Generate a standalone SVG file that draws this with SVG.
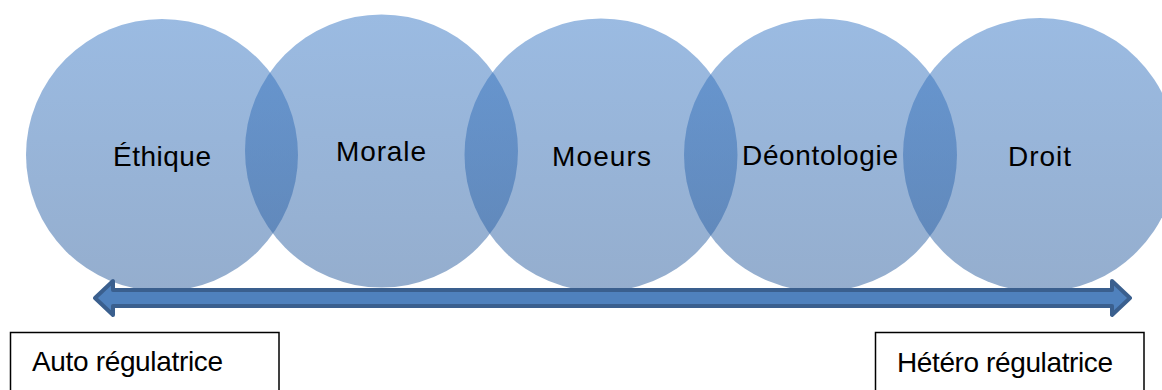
<svg xmlns="http://www.w3.org/2000/svg" width="1162" height="390" viewBox="0 0 1162 390">
<defs>
<linearGradient id="cg" x1="0" y1="0" x2="0" y2="1">
<stop offset="0" stop-color="#3777C5"/>
<stop offset="1" stop-color="#2B5D9D"/>
</linearGradient>
</defs>
<style>
.c{fill:url(#cg);fill-opacity:0.5}
.t{font-family:"Liberation Sans",Arial,sans-serif;font-size:28px;fill:#000}
.b{fill:#fff;stroke:#000;stroke-width:1.5}
.ar{fill:#4F81BD;stroke:#3A5F8E;stroke-width:4;stroke-linejoin:round}
</style>
<rect width="1162" height="390" fill="#fff"/>
<g id="ethique"><circle class="c" cx="162" cy="155" r="136"/><text class="t" x="113" y="166" textLength="98">Éthique</text></g>
<g id="morale"><circle class="c" cx="381.5" cy="151" r="136.5"/><text class="t" x="336" y="161" textLength="90">Morale</text></g>
<g id="moeurs"><circle class="c" cx="601" cy="155" r="136.5"/><text class="t" x="552" y="166" textLength="99">Moeurs</text></g>
<g id="deontologie"><circle class="c" cx="820.5" cy="155" r="136.5"/><text class="t" x="742" y="165" textLength="156">Déontologie</text></g>
<g id="droit"><circle class="c" cx="1040" cy="155" r="137"/><text class="t" x="1008" y="166" textLength="63">Droit</text></g>
<g id="connectors">
<path class="ar" d="M95,298 L113,281 L113,290 L1112,290 L1112,281 L1130,298 L1112,315 L1112,306 L113,306 L113,315 Z"/>
</g>
<g id="auto"><rect class="b" x="10.5" y="332.5" width="268.5" height="70"/><text class="t" x="32" y="371" textLength="191">Auto régulatrice</text></g>
<g id="hetero"><rect class="b" x="875.5" y="332.5" width="268.5" height="70"/><text class="t" x="897" y="372" textLength="216">Hétéro régulatrice</text></g>
</svg>
